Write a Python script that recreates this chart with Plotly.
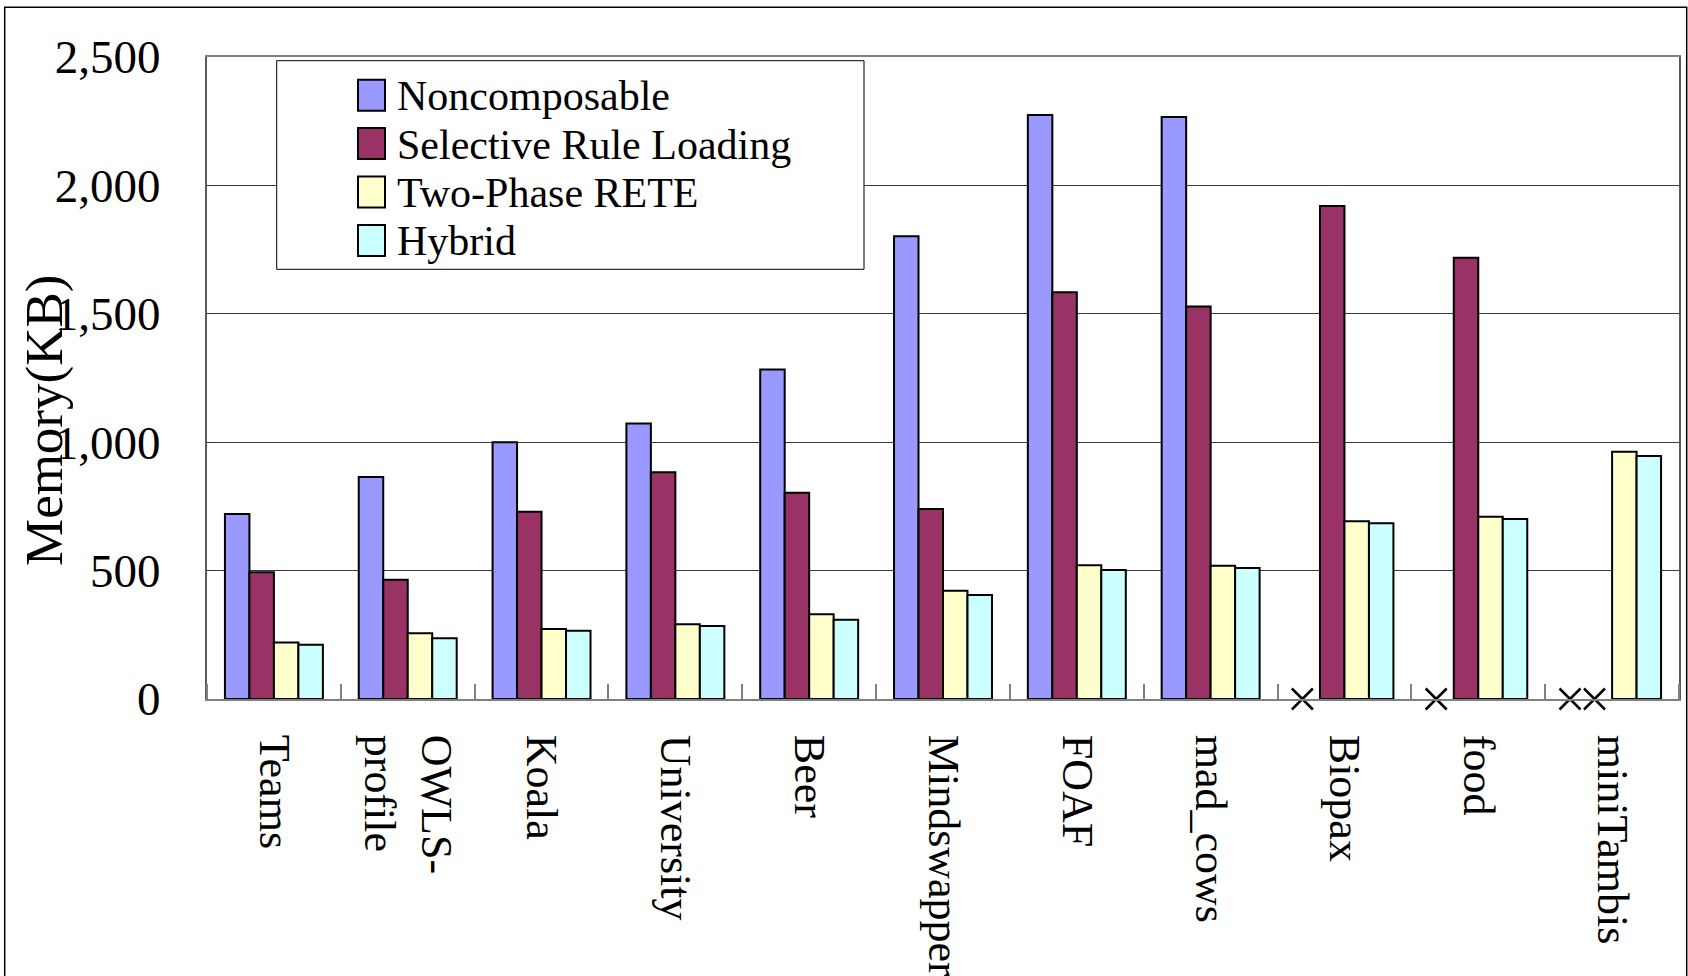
import plotly.graph_objects as go

# ---------------- data ----------------
categories = ["Teams", "OWLS-<br>profile", "Koala", "University", "Beer",
              "Mindswapper", "FOAF", "mad_cows", "Biopax", "food", "miniTambis"]
series_names = ["Noncomposable", "Selective Rule Loading", "Two-Phase RETE", "Hybrid"]
noncomposable = [720, 864, 1000, 1073, 1283, 1802, 2274, 2266, None, None, None]
selective_rule_loading = [494, 464, 729, 883, 803, 740, 1584, 1528, 1920, 1718, None]
two_phase_rete = [220, 256, 273, 291, 330, 422, 521, 519, 692, 710, 963]
hybrid = [211, 237, 266, 284, 309, 405, 502, 510, 684, 701, 946]
series_values = [noncomposable, selective_rule_loading, two_phase_rete, hybrid]
colors = ["#9999FF", "#993366", "#FFFFCC", "#CCFFFF"]
y_tick_values = [0, 500, 1000, 1500, 2000, 2500]

# ---------------- layout constants ----------------
W, H = 1688, 976
ML, MR, MT, MB = 207, 9, 57, 277
PW, PH = W - ML - MR, H - MT - MB
BARGAP = 0.268
FONT = "Liberation Serif, Times New Roman, serif"


def px_x(p):
    return (p - ML) / PW


def px_y(p):
    return (H - MB - p) / PH


x_idx = list(range(len(categories)))
n_series = len(series_names)
slot = (1 - BARGAP) / n_series

fig = go.Figure()
for k, (name, vals, col) in enumerate(zip(series_names, series_values, colors)):
    fig.add_trace(go.Bar(
        x=x_idx, y=vals, name=name, showlegend=False,
        marker=dict(color=col, line=dict(color="#000000", width=2)),
    ))

# "x" markers for missing values (drawn at the missing bar's slot, at zero)
for k, vals in enumerate(series_values):
    xs = [i + (k - (n_series - 1) / 2) * slot - 0.04 for i, v in zip(x_idx, vals) if v is None]
    if xs:
        fig.add_trace(go.Scatter(
            x=xs, y=[0] * len(xs), mode="markers", showlegend=False,
            cliponaxis=False, hoverinfo="skip",
            marker=dict(symbol="x-thin", size=21, color="#000000",
                        line=dict(color="#000000", width=2.5)),
        ))

shapes = []
annotations = []

# outer frame
shapes.append(dict(type="rect", xref="paper", yref="paper",
                   x0=px_x(4.7), x1=px_x(1686.7), y0=px_y(1010), y1=px_y(7.3),
                   line=dict(color="#000000", width=1.5), fillcolor="rgba(0,0,0,0)",
                   layer="above"))

# legend box (manual, Excel style)
shapes.append(dict(type="rect", xref="paper", yref="paper",
                   x0=px_x(276.7), x1=px_x(864), y0=px_y(269.3), y1=px_y(60.7),
                   line=dict(color="#000000", width=1), fillcolor="#FFFFFF",
                   layer="above"))
for k, (name, col) in enumerate(zip(series_names, colors)):
    cy = 95.2 + 48.4 * k
    shapes.append(dict(type="rect", xref="paper", yref="paper",
                       x0=px_x(358), x1=px_x(385), y0=px_y(cy + 15.5), y1=px_y(cy - 15.5),
                       line=dict(color="#000000", width=2), fillcolor=col, layer="above"))
    annotations.append(dict(text=name, xref="paper", yref="paper",
                            x=px_x(395), y=px_y(cy + 1), xanchor="left", yanchor="middle",
                            showarrow=False, font=dict(family=FONT, size=42, color="#000000")))

# y-axis title
annotations.append(dict(text="Memory(KB)", xref="paper", yref="paper",
                        x=px_x(44), y=px_y(421), xanchor="center", yanchor="middle",
                        textangle=-90, showarrow=False,
                        font=dict(family=FONT, size=53, color="#000000")))

fig.update_layout(
    width=W, height=H,
    margin=dict(l=ML, r=MR, t=MT, b=MB, autoexpand=False),
    paper_bgcolor="#FFFFFF", plot_bgcolor="#FFFFFF",
    barmode="group", bargap=BARGAP, bargroupgap=0,
    showlegend=False,
    font=dict(family=FONT, color="#000000"),
    shapes=shapes, annotations=annotations,
    xaxis=dict(
        range=[-0.5, len(categories) - 0.5],
        tickmode="array", tickvals=x_idx, ticktext=categories,
        tickangle=90, ticks="", ticklabelstandoff=25,
        tickfont=dict(family=FONT, size=44, color="#000000"),
        showgrid=False, zeroline=False,
        showline=True, linecolor="#808080", linewidth=2, mirror=True,
        minor=dict(ticks="inside", tick0=0.5, dtick=1, ticklen=15,
                   tickcolor="#808080", tickwidth=1.5, showgrid=False),
        automargin=False, fixedrange=True,
    ),
    yaxis=dict(
        range=[0, 2500], tickmode="array", tickvals=y_tick_values,
        tickformat=",d", ticks="inside", ticklen=12, tickcolor="#333333",
        ticklabelstandoff=35,
        tickfont=dict(family=FONT, size=47, color="#000000"),
        showgrid=True, gridcolor="#3a3a3a", gridwidth=1, zeroline=False,
        showline=True, linecolor="#5a5a5a", linewidth=2, mirror=True,
        automargin=False, fixedrange=True,
    ),
)

fig.write_html("out.html", config={"displayModeBar": False},
               post_script="document.body.style.margin='0px';document.body.style.overflow='hidden';")
